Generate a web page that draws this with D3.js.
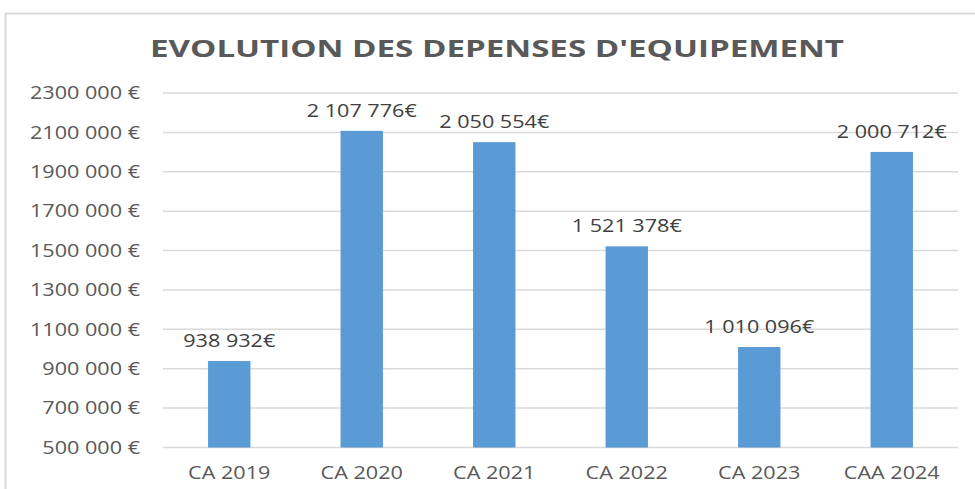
<!DOCTYPE html>
<html><head><meta charset="utf-8">
<script src="https://cdn.jsdelivr.net/npm/d3@7"></script>
<style>body{margin:0;background:#fff}svg{display:block}</style>
</head><body>
<script>
const categories = ["CA 2019","CA 2020","CA 2021","CA 2022","CA 2023","CAA 2024"];
const values = [938932, 2107776, 2050554, 1521378, 1010096, 2000712];
const valueLabels = ["938 932€","2 107 776€","2 050 554€","1 521 378€","1 010 096€","2 000 712€"];
const yTicks = [500000,700000,900000,1100000,1300000,1500000,1700000,1900000,2100000,2300000];
const yTickLabels = ["500 000 €","700 000 €","900 000 €","1100 000 €","1300 000 €","1500 000 €","1700 000 €","1900 000 €","2100 000 €","2300 000 €"];
const title = "EVOLUTION DES DEPENSES D'EQUIPEMENT";

const W = 975, H = 489;
const svg = d3.select("body").append("svg").attr("width", W).attr("height", H);
const font = "'Open Sans', 'Noto Sans', sans-serif";
const fs = 18, sx = 1.2;

// frame
svg.append("path").attr("d", `M5.5,${H} V13.5 H${W}`).attr("fill","none").attr("stroke","#d9d9d9").attr("stroke-width",2);

svg.append("text").attr("x", 497).attr("y", 57).attr("text-anchor","middle")
  .attr("font-family", font).attr("font-weight","bold").attr("font-size", 23.5)
  .attr("fill","#595959").attr("textLength", 694).attr("lengthAdjust","spacingAndGlyphs")
  .text(title);

const x = d3.scaleBand().domain(categories).range([163, 958]).paddingInner(0.68).paddingOuter(0.34);
const y = d3.scaleLinear().domain([500000, 2300000]).range([447.5, 93]);

// gridlines
svg.append("g").selectAll("line").data(yTicks).join("line")
  .attr("x1", 163).attr("x2", 958).attr("y1", d => y(d)).attr("y2", d => y(d))
  .attr("stroke","#d9d9d9").attr("stroke-width",1.5);

// y axis labels
const yAxis = d3.axisLeft(y).tickValues(yTicks).tickSize(0).tickPadding(0)
  .tickFormat((d,i) => yTickLabels[i]);
const gy = svg.append("g").attr("transform","translate(140,0)").call(yAxis);
gy.select(".domain").remove();
gy.selectAll("text").attr("font-family", font).attr("font-size", fs).attr("fill","#595959")
  .attr("transform", `scale(${sx},1)`);

// bars
svg.append("g").selectAll("rect").data(values).join("rect")
  .attr("x", (d,i) => x(categories[i])).attr("width", x.bandwidth())
  .attr("y", d => y(d)).attr("height", d => y(500000) - y(d))
  .attr("fill","#5b9bd5");

// value labels
svg.append("g").selectAll("text").data(values).join("text")
  .attr("transform", (d,i) => `translate(${x(categories[i]) + x.bandwidth()/2},${y(d) - 14}) scale(${sx},1)`)
  .attr("text-anchor","middle")
  .attr("font-family", font).attr("font-size", fs).attr("fill","#404040")
  .text((d,i) => valueLabels[i]);

// x axis labels
const xAxis = d3.axisBottom(x).tickSize(0).tickPadding(0);
const gx = svg.append("g").attr("transform","translate(0,466)").call(xAxis);
gx.select(".domain").remove();
gx.selectAll("text").attr("font-family", font).attr("font-size", fs).attr("fill","#595959")
  .attr("transform", `scale(${sx},1)`);
</script>
</body></html>
